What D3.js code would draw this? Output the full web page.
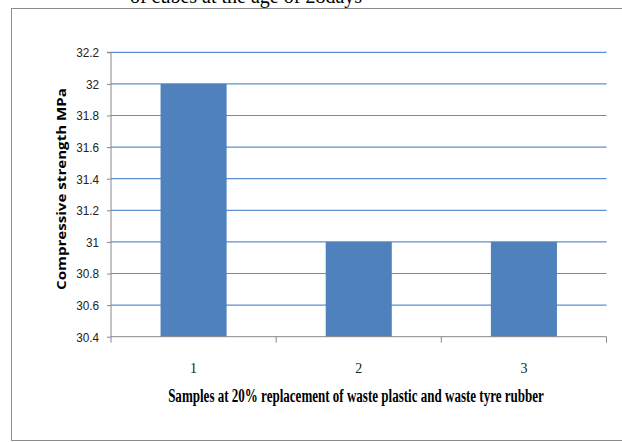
<!DOCTYPE html>
<html>
<head>
<meta charset="utf-8">
<script src="https://cdn.jsdelivr.net/npm/d3@7"></script>
<style>
  html, body { margin: 0; padding: 0; background: #fff; }
  svg { display: block; }
</style>
</head>
<body>
<svg id="chart" width="622" height="442"></svg>
<script>
// Compressive strength of the three samples (MPa)
const categories = ["1", "2", "3"];
const strength = [32, 31, 31];
const yTicks = [30.4, 30.6, 30.8, 31, 31.2, 31.4, 31.6, 31.8, 32, 32.2];

const svg = d3.select("#chart");
const plot = { left: 111, right: 606.5, top: 52.3, bottom: 336.7 };
const squeeze = 0.87; // horizontal condensing of the numeric labels

// Title line running off the top edge
svg.append("text")
  .attr("x", 246).attr("y", 2.5)
  .attr("text-anchor", "middle")
  .style("font-family", "'Liberation Serif', 'Times New Roman', serif")
  .style("font-size", "20px")
  .attr("fill", "#000")
  .text("of cubes at the age of 28days");

// Chart frame
svg.append("rect")
  .attr("x", 11.5).attr("y", 8.5)
  .attr("width", 622).attr("height", 432)
  .attr("fill", "none")
  .attr("stroke", "#8c8c8c")
  .attr("stroke-width", 1);

const x = d3.scaleBand()
  .domain(categories)
  .range([plot.left, plot.right])
  .paddingInner(0.6)
  .paddingOuter(0.3);

const y = d3.scaleLinear()
  .domain([30.4, 32.2])
  .range([plot.bottom, plot.top]);

// Horizontal gridlines
svg.append("g")
  .selectAll("line")
  .data(yTicks.filter(d => d > 30.4))
  .join("line")
  .attr("x1", plot.left).attr("x2", plot.right)
  .attr("y1", d => y(d)).attr("y2", d => y(d))
  .attr("stroke", "#5b8fcf")
  .attr("stroke-width", 1.2);

// Bars
svg.append("g")
  .selectAll("rect")
  .data(strength)
  .join("rect")
  .attr("x", (d, i) => x(categories[i]))
  .attr("width", x.bandwidth())
  .attr("y", d => y(d))
  .attr("height", d => y(30.4) - y(d))
  .attr("fill", "#4f81bd");

// Y axis
const yAxis = d3.axisLeft(y)
  .tickValues(yTicks)
  .tickFormat(d => String(+d.toFixed(1)))
  .tickSize(4)
  .tickPadding(6);
const gy = svg.append("g")
  .attr("transform", `translate(${plot.left},0)`)
  .call(yAxis);
gy.select(".domain").attr("stroke", "#888").attr("d", `M-4,${plot.top}H0V${plot.bottom}`);
gy.selectAll(".tick line").attr("stroke", "#888");
gy.selectAll(".tick text")
  .attr("x", -12 / squeeze)
  .attr("transform", `scale(${squeeze},1)`)
  .style("font-family", "'Liberation Sans', Arial, sans-serif")
  .style("font-size", "13.5px")
  .attr("fill", "#222");

// X axis with tick marks at the category boundaries
const gx = svg.append("g")
  .attr("transform", `translate(0,${plot.bottom})`);
gx.append("line")
  .attr("x1", plot.left).attr("x2", plot.right)
  .attr("stroke", "#888");
gx.selectAll("line.tk")
  .data(d3.range(categories.length + 1))
  .join("line")
  .attr("class", "tk")
  .attr("x1", i => plot.left + i * (plot.right - plot.left) / categories.length)
  .attr("x2", i => plot.left + i * (plot.right - plot.left) / categories.length)
  .attr("y1", 0).attr("y2", 6)
  .attr("stroke", "#888");
gx.selectAll("text")
  .data(categories)
  .join("text")
  .attr("x", d => x(d) + x.bandwidth() / 2)
  .attr("y", 36.5)
  .attr("text-anchor", "middle")
  .style("font-family", "'Liberation Serif', 'Times New Roman', serif")
  .style("font-size", "14px")
  .attr("fill", "#222")
  .text(d => d);

// Condensed text: scale a label horizontally so it spans the given width
function condense(sel, cx, cy, width, rotate) {
  const natural = sel.node().getComputedTextLength();
  const k = width / natural;
  sel.attr("x", 0).attr("y", 0)
    .attr("transform", `translate(${cx},${cy})${rotate ? " rotate(-90)" : ""} scale(${k},1)`);
}

// Axis titles
const xTitle = svg.append("text")
  .attr("text-anchor", "middle")
  .style("font-family", "'Liberation Serif', 'Times New Roman', serif")
  .style("font-weight", "bold")
  .style("font-size", "19px")
  .attr("fill", "#000")
  .text("Samples at 20% replacement of waste plastic and waste tyre rubber");
condense(xTitle, 356, 402, 376, false);

const yTitle = svg.append("text")
  .attr("text-anchor", "middle")
  .style("font-family", "'Open Sans', 'DejaVu Sans', sans-serif")
  .style("font-weight", "bold")
  .style("font-size", "11.5px")
  .attr("fill", "#000")
  .text("Compressive strength MPa");
condense(yTitle, 65.5, 189, 202, true);
</script>
</body>
</html>
